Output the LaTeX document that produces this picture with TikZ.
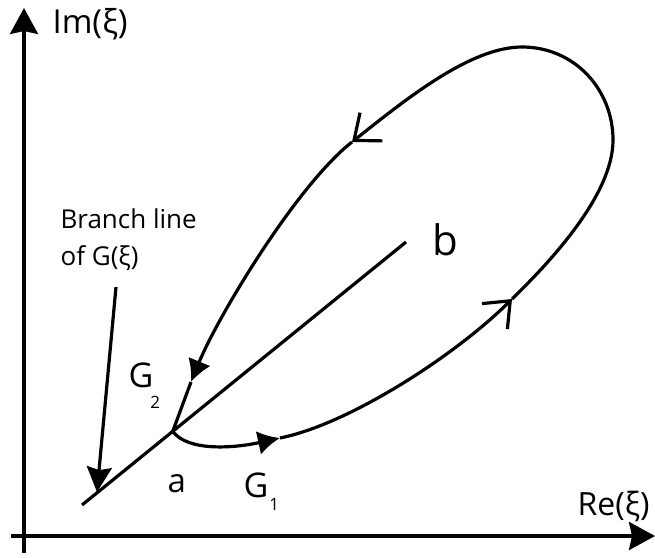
\documentclass[tikz,border=0pt]{standalone}
\usepackage{fontspec}
\setmainfont{Open Sans}
\usetikzlibrary{arrows.meta,calc}
\begin{document}
\begin{tikzpicture}[x=1pt,y=-1pt, line width=3.2pt,
  axisarrow/.style={-{Stealth[length=26pt,width=28pt,inset=3pt]}},
  ptrarrow/.style={-{Stealth[length=25pt,width=25pt,inset=3pt]}},
  solidtip/.style={-{Latex[length=22pt,width=24pt]}},
  opentip/.style={-{Straight Barb[length=22pt,width=36pt]}},
  lbl/.style={inner sep=0pt, anchor=base west}]
\useasboundingbox (0,0) rectangle (655,557);
% axes
\coordinate (xs) at (11,536); \coordinate (xe) at (655,536);
\coordinate (ys) at (24,553); \coordinate (ye) at (24,8);
\draw[axisarrow] (xs) -- (xe);
\draw[axisarrow] (ys) -- (ye);
% branch line
\coordinate (bl1) at (82,505); \coordinate (bl2) at (406,242);
\draw (bl1) -- (bl2);
\coordinate (a) at ($(bl1)!0.28!(bl2)$);
% contour
\coordinate (g1) at (280,438);
\coordinate (r1) at (512,299);
\coordinate (rt) at (613,140);
\coordinate (tp) at (522,47);
\coordinate (l1) at (352,142);
\coordinate (g2) at (191,382);
\draw[solidtip] (a) .. controls (188,452) and (235,448) .. (g1);
\draw[opentip] (g1) .. controls (350,424) and (457,354) .. (r1);
\draw (r1) .. controls (550,262) and (613,195) .. (rt) .. controls (613,90) and (575,47) .. (tp);
\draw[opentip] (tp) .. controls (470,47) and (405,100) .. (l1);
\draw[solidtip] (l1) .. controls (297,185) and (218,316) .. (g2);
\draw (g2) -- (a);
% pointer
\coordinate (pt) at (116,287); \coordinate (ptend) at (97,492);
\draw[ptrarrow] (pt) -- (ptend);
% labels
\node[lbl, font=\fontsize{33}{33}\selectfont] (im) at (51,33) {Im(ξ)};
\node[lbl, font=\fontsize{32}{32}\selectfont] (re) at (576,515) {Re(ξ)};
\node[lbl, align=left, font=\fontsize{26}{37}\selectfont] (br) at (59,265) {Branch line\\of G(ξ)};
\node[lbl, font=\fontsize{42}{42}\selectfont] (b) at (431,255) {b};
\node[lbl, font=\fontsize{33}{33}\selectfont] (alab) at (166,492) {a};
\node[lbl, font=\fontsize{34}{34}\selectfont] (G2) at (127,387) {G\kern-3pt\raisebox{-21pt}{\fontsize{17}{17}\selectfont 2}};
\node[lbl, font=\fontsize{34}{34}\selectfont] (G1) at (242,497) {G\kern1pt\raisebox{-13pt}{\fontsize{17}{17}\selectfont 1}};
\end{tikzpicture}
\end{document}
